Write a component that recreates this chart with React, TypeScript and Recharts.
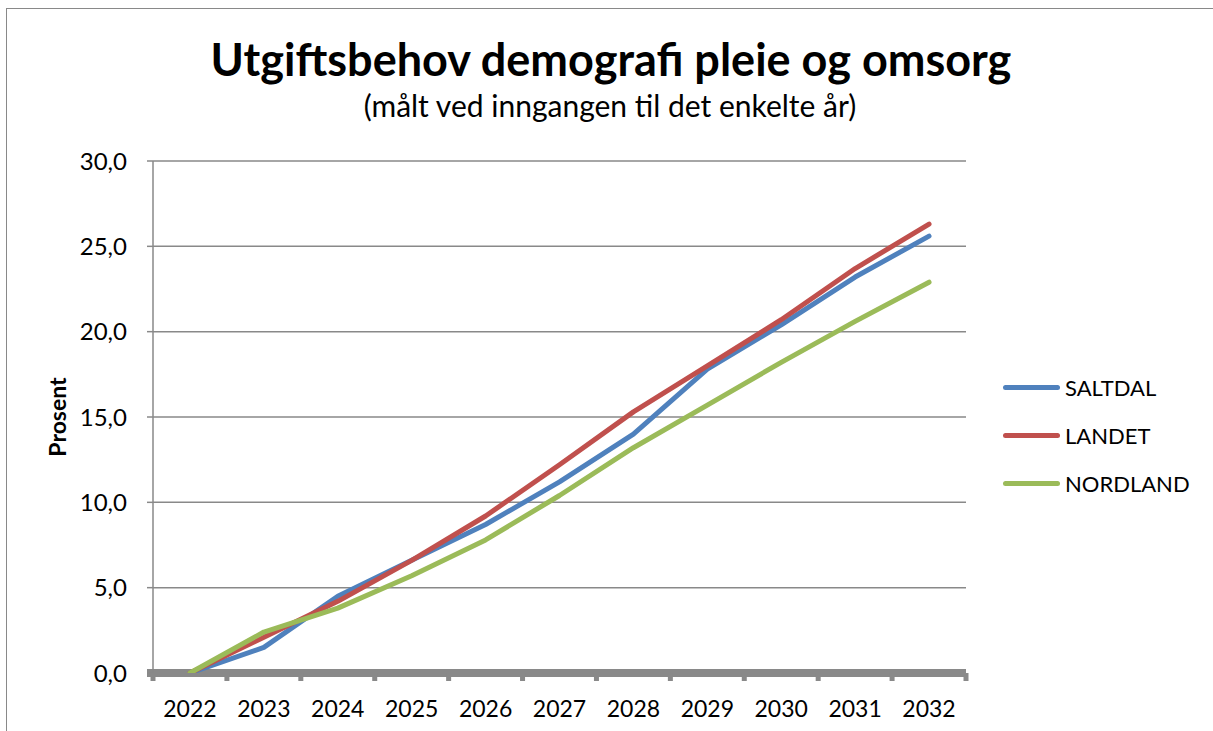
import React from "react";
import { LineChart, Line, XAxis, YAxis, CartesianGrid } from "recharts";

const years = ["2022", "2023", "2024", "2025", "2026", "2027", "2028", "2029", "2030", "2031", "2032"];
const saltdal = [0, 1.5, 4.5, 6.6, 8.7, 11.2, 14.0, 17.8, 20.4, 23.2, 25.6];
const landet = [0, 2.1, 4.2, 6.6, 9.2, 12.2, 15.3, 18.0, 20.7, 23.7, 26.3];
const nordland = [0, 2.4, 3.8, 5.7, 7.8, 10.4, 13.2, 15.7, 18.2, 20.6, 22.9];
const yTicks = [0, 5, 10, 15, 20, 25, 30];

const seriesInfo = [
    { key: "saltdal", name: "SALTDAL", color: "#4F81BD" },
    { key: "landet", name: "LANDET", color: "#C0504D" },
    { key: "nordland", name: "NORDLAND", color: "#9BBB59" },
];

const chartData = years.map((y, i) => ({
    year: y,
    saltdal: saltdal[i],
    landet: landet[i],
    nordland: nordland[i],
}));

const FONT = "Lato, 'Open Sans', sans-serif";
const AXIS_GREY = "#898989";
const BAND = 813 / years.length;
const PLOT_BOTTOM = 731 - 28 - 30;

const XTick: React.FC<any> = ({ x, y, payload, index }) => (
    <g>
        <rect x={x - BAND / 2 - 2.5} y={y} width={5} height={8} fill={AXIS_GREY} />
        {index === years.length - 1 && (
            <rect x={x + BAND / 2 - 2.5} y={y} width={5} height={8} fill={AXIS_GREY} />
        )}
        <text x={x} y={y + 44} textAnchor="middle" fontSize={23} fontFamily={FONT} fill="#000">
            {payload.value}
        </text>
    </g>
);

// grid lines; the zero line doubles as the thick Excel-style category axis,
// drawn here so the series sit on top of it
const GridLine = (props: any) => {
    const { x1, x2, y1, y2 } = props;
    const isBase = Math.abs(y1 - PLOT_BOTTOM) < 1;
    return (
        <line
            key={`g-${y1}`}
            x1={isBase ? x1 - 6 : x1}
            x2={x2}
            y1={y1}
            y2={y2}
            stroke={AXIS_GREY}
            strokeWidth={isBase ? 8 : 1.5}
        />
    );
};

// legend sits outside the chart so it doesn't eat plot space
const LegendBox: React.FC = () => (
    <div style={{ position: "absolute", left: 1003, top: 363, fontFamily: FONT, fontSize: 22, color: "#000" }}>
        {seriesInfo.map((s) => (
            <div key={s.key} style={{ display: "flex", alignItems: "center", height: 48 }}>
                <div style={{ width: 57, height: 5, borderRadius: 3, background: s.color, marginRight: 5 }} />
                <span>{s.name}</span>
            </div>
        ))}
    </div>
);

export default function App() {
    return (
        <div style={{ position: "fixed", left: 0, top: 0, width: 1213, height: 731, overflow: "hidden", background: "#fff" }}>
            <div
                style={{
                    position: "absolute",
                    left: 6,
                    top: 8,
                    width: 1230,
                    height: 760,
                    border: "1.5px solid " + AXIS_GREY,
                }}
            />
            <div
                style={{
                    position: "absolute",
                    left: 0,
                    width: 1222,
                    top: 33,
                    textAlign: "center",
                    fontFamily: FONT,
                    fontWeight: 700,
                    fontSize: 45,
                    color: "#000",
                    lineHeight: "52px",
                    whiteSpace: "nowrap",
                }}
            >
                Utgiftsbehov demografi pleie og omsorg
            </div>
            <div
                style={{
                    position: "absolute",
                    left: 0,
                    width: 1220,
                    top: 87,
                    textAlign: "center",
                    fontFamily: FONT,
                    fontSize: 30,
                    color: "#000",
                    lineHeight: "36px",
                    whiteSpace: "nowrap",
                }}
            >
                (målt ved inngangen til det enkelte år)
            </div>
            <div style={{ position: "absolute", left: 0, top: 0 }}>
                <LineChart width={1213} height={731} data={chartData} margin={{ top: 161, right: 247, bottom: 28, left: 0 }}>
                    <CartesianGrid vertical={false} horizontal={GridLine} />
                    <XAxis
                        dataKey="year"
                        height={30}
                        padding={{ left: BAND / 2, right: BAND / 2 }}
                        axisLine={false}
                        tickLine={false}
                        tickSize={0}
                        tickMargin={0}
                        tick={<XTick />}
                        interval={0}
                    />
                    <YAxis
                        width={153}
                        domain={[0, 30]}
                        ticks={yTicks}
                        allowDataOverflow
                        axisLine={{ stroke: AXIS_GREY, strokeWidth: 1.5 }}
                        tickLine={{ stroke: AXIS_GREY, strokeWidth: 1.5 }}
                        tickSize={6}
                        tickMargin={20}
                        tickFormatter={(v: number) => v.toFixed(1).replace(".", ",")}
                        tick={{ fontSize: 24, fontFamily: FONT, fill: "#000" }}
                        label={{
                            content: () => (
                                <text
                                    x={66}
                                    y={417}
                                    transform="rotate(-90 66 417)"
                                    textAnchor="middle"
                                    fontFamily={FONT}
                                    fontWeight={700}
                                    fontSize={23}
                                    fill="#000"
                                >
                                    Prosent
                                </text>
                            ),
                        }}
                    />
                    {seriesInfo.map((s) => (
                        <Line
                            key={s.key}
                            type="linear"
                            dataKey={s.key}
                            name={s.name}
                            stroke={s.color}
                            strokeWidth={5}
                            strokeLinecap="round"
                            strokeLinejoin="round"
                            dot={false}
                            activeDot={false}
                            isAnimationActive={false}
                        />
                    ))}
                </LineChart>
            </div>
            <LegendBox />
        </div>
    );
}
